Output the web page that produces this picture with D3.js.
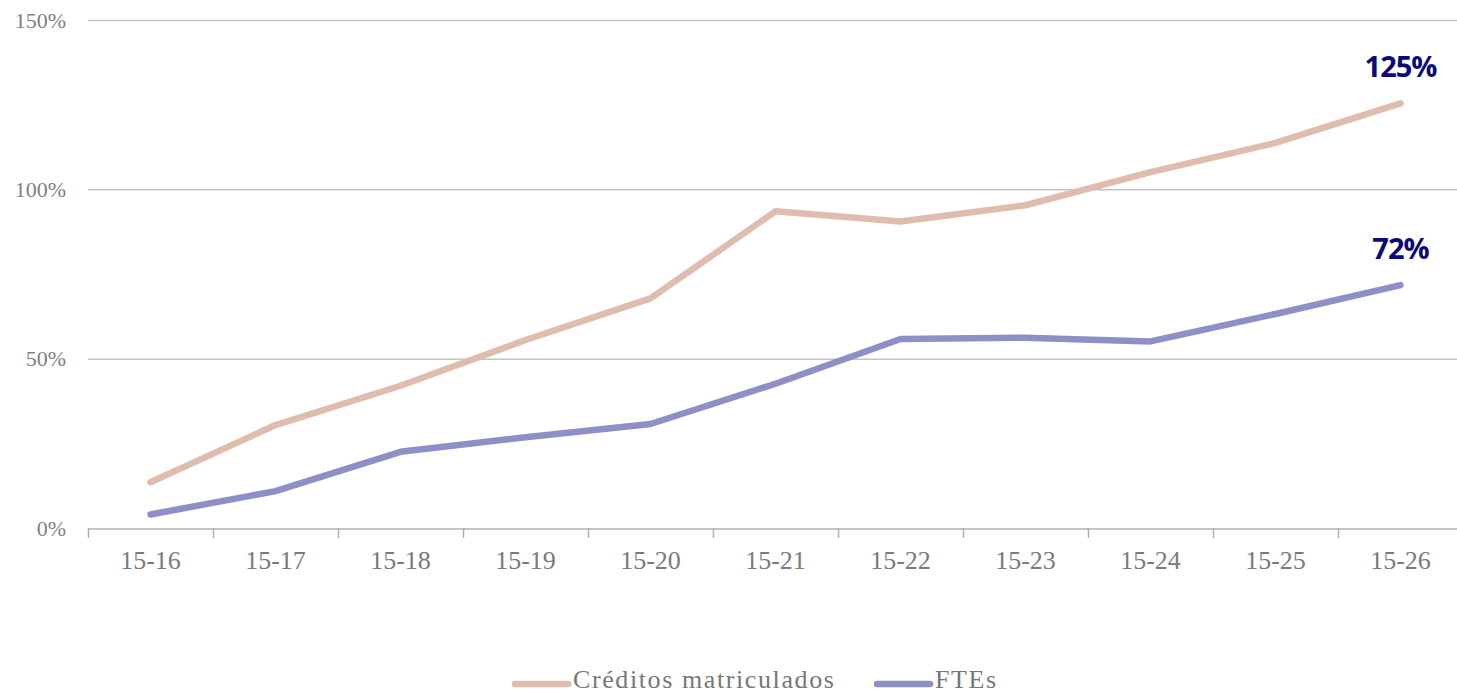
<!DOCTYPE html>
<html><head><meta charset="utf-8">
<script src="https://cdn.jsdelivr.net/npm/d3@7/dist/d3.min.js"></script>
<style>
html,body{margin:0;padding:0;background:#fff;}
svg{display:block;}
</style></head>
<body>
<svg id="chart" width="1457" height="695"></svg>
<script>
const categories = ["15-16","15-17","15-18","15-19","15-20","15-21","15-22","15-23","15-24","15-25","15-26"];
const creditos = [13.5, 30.4, 42, 55.5, 67.8, 93.5, 90.5, 95.3, 105.1, 113.7, 125.4];
const ftes = [4.0, 10.9, 22.5, 26.8, 30.7, 42.6, 55.8, 56.2, 55.1, 63.2, 71.7];
const yTicks = [0, 50, 100, 150];
const seriesNames = ["Créditos matriculados", "FTEs"];
const endLabels = ["125%", "72%"];
const colors = ["#dfbdae", "#8f8fc8"];

const svg = d3.select("#chart");
const x = d3.scaleBand().domain(categories).range([88, 1463]);
const y = d3.scaleLinear().domain([0, 150]).range([528, 20]);

// gridlines
svg.append("g").selectAll("line").data(yTicks.filter(d => d > 0)).join("line")
  .attr("x1", 88).attr("x2", 1457)
  .attr("y1", d => y(d) + 0.5).attr("y2", d => y(d) + 0.5)
  .attr("stroke", "#c4c4c4").attr("stroke-width", 1.5);

// y labels
svg.append("g").selectAll("text").data(yTicks).join("text")
  .attr("x", 66).attr("y", d => y(d)).attr("dy", "0.35em")
  .attr("text-anchor", "end")
  .attr("font-family", "'Liberation Serif', serif").attr("font-size", 22)
  .attr("fill", "#808080")
  .text(d => d + "%");

// x axis
const xAxis = svg.append("g").attr("transform", `translate(0,${y(0) + 0.5})`)
  .call(d3.axisBottom(x).tickSize(0).tickPadding(22));
xAxis.select(".domain").attr("stroke", "#b0b0b0").attr("stroke-width", 1.5);
xAxis.selectAll("text").attr("font-family", "'Liberation Serif', serif").attr("font-size", 26).attr("fill", "#7a7a7a");
// category boundary ticks
svg.append("g").selectAll("line").data(categories).join("line")
  .attr("x1", d => x(d) + 0.5).attr("x2", d => x(d) + 0.5)
  .attr("y1", y(0)).attr("y2", y(0) + 10)
  .attr("stroke", "#b0b0b0").attr("stroke-width", 1.5);

// lines
const line = d3.line().x((d, i) => x(categories[i]) + x.bandwidth() / 2).y(d => y(d));
[creditos, ftes].forEach((s, k) => {
  svg.append("path").datum(s).attr("d", line)
    .attr("fill", "none").attr("stroke", colors[k]).attr("stroke-width", 6.5)
    .attr("stroke-linecap", "round").attr("stroke-linejoin", "round");
});

// end labels
[creditos, ftes].forEach((s, k) => {
  const last = s.length - 1;
  svg.append("text")
    .attr("x", x(categories[last]) + x.bandwidth() / 2)
    .attr("y", y(s[last]) - 26)
    .attr("text-anchor", "middle")
    .attr("font-family", "'Open Sans', sans-serif").attr("font-weight", 700)
    .attr("font-size", 29).attr("letter-spacing", -1)
    .attr("fill", "#0b0b78")
    .text(endLabels[k]);
});

// legend
const legendItems = [{x: 515, tx: 573}, {x: 877, tx: 935}];
legendItems.forEach((it, k) => {
  svg.append("line").attr("x1", it.x).attr("x2", it.x + 53).attr("y1", 684).attr("y2", 684)
    .attr("stroke", colors[k]).attr("stroke-width", 6.5).attr("stroke-linecap", "round");
  svg.append("text").attr("x", it.tx).attr("y", 688)
    .attr("font-family", "'Liberation Serif', serif").attr("font-size", 26)
    .attr("letter-spacing", 1.6)
    .attr("fill", "#777")
    .text(seriesNames[k]);
});
</script>
</body></html>
